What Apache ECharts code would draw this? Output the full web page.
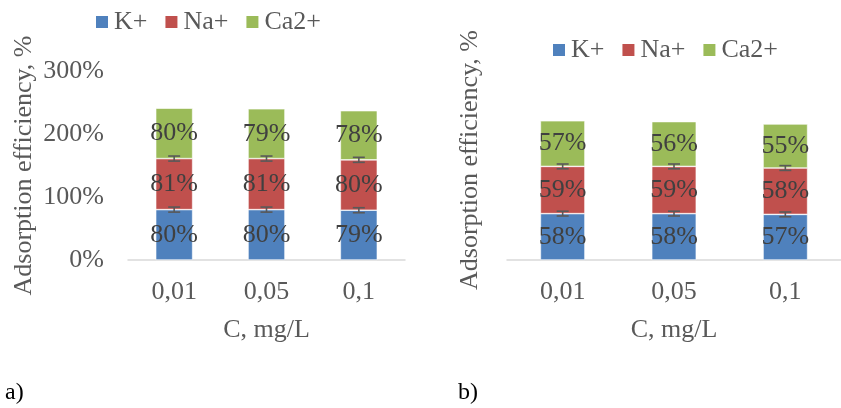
<!DOCTYPE html>
<html>
<head>
<meta charset="utf-8">
<script src="https://cdn.jsdelivr.net/npm/echarts@6/dist/echarts.min.js"></script>
<style>
html,body{margin:0;padding:0;background:#fff;}
#c{width:841px;height:408px;}
</style>
</head>
<body>
<div id="c"></div>
<script>
var categories = ['0,01', '0,05', '0,1'];
var seriesNames = ['K+', 'Na+', 'Ca2+'];
// Panel a values (%)
var aK = [80, 80, 79];
var aNa = [81, 81, 80];
var aCa = [80, 79, 78];
var aErrK = [4, 4, 4];
var aErrNa = [4, 4, 4];
// Panel b values (%)
var bK = [58, 58, 57];
var bNa = [59, 59, 58];
var bCa = [57, 56, 55];
var bErrK = [3, 3, 3];
var bErrNa = [3, 3, 3];
var yTicksA = [0, 100, 200, 300];

var FONT = "'Liberation Serif','Times New Roman',serif";
var TXT = '#595959';
var colors = ['#4F81BD', '#C0504D', '#9BBB59'];

function errData(base, top, err) {
  var out = [];
  for (var i = 0; i < top.length; i++) {
    var b = base ? base[i] : 0;
    out.push([i, b + top[i], err[i]]);
  }
  return out;
}
function errSeries(idx, data) {
  return {
    type: 'custom', xAxisIndex: idx, yAxisIndex: idx, z: 10, silent: true,
    renderItem: function (params, api) {
      var x = api.value(0), y = api.value(1), e = api.value(2);
      var hi = api.coord([x, y + e]);
      var lo = api.coord([x, y - e]);
      var hw = 6;
      var st = { stroke: '#595959', lineWidth: 1.6 };
      return { type: 'group', children: [
        { type: 'line', shape: { x1: hi[0], y1: hi[1], x2: lo[0], y2: lo[1] }, style: st },
        { type: 'line', shape: { x1: hi[0] - hw, y1: hi[1], x2: hi[0] + hw, y2: hi[1] }, style: st },
        { type: 'line', shape: { x1: lo[0] - hw, y1: lo[1], x2: lo[0] + hw, y2: lo[1] }, style: st }
      ]};
    },
    data: data
  };
}
function barSeries(idx, name, data, color, stack) {
  return {
    type: 'bar', name: name, stack: stack, xAxisIndex: idx, yAxisIndex: idx,
    barWidth: '40%',
    itemStyle: { color: color, borderColor: '#ffffff', borderWidth: 0.6 },
    label: { show: true, position: 'inside', formatter: '{c}%', color: '#404040',
             fontFamily: FONT, fontSize: 26 },
    data: data
  };
}

var legendCommon = {
  data: seriesNames, icon: 'rect', itemWidth: 14, itemHeight: 14, itemGap: 16, padding: 0,
  textStyle: { fontFamily: FONT, fontSize: 26, color: TXT }, selectedMode: false
};

var chart = echarts.init(document.getElementById('c'), null, { renderer: 'canvas' });
chart.setOption({
  animation: false,
  backgroundColor: '#ffffff',
  color: colors,
  legend: [
    Object.assign({ left: 94, top: 9 }, legendCommon),
    Object.assign({ left: 551, top: 37 }, legendCommon)
  ],
  grid: [
    { left: 128, width: 277, top: 71, height: 189 },
    { left: 507, width: 347, top: 60, height: 200 }
  ],
  xAxis: [0, 1].map(function (i) {
    return {
      type: 'category', gridIndex: i, data: categories,
      name: 'C, mg/L', nameLocation: 'middle', nameGap: 57,
      nameTextStyle: { fontFamily: FONT, fontSize: 26, color: TXT },
      axisLine: { lineStyle: { color: '#D9D9D9', width: 1.5 } },
      axisTick: { show: false },
      axisLabel: { fontFamily: FONT, fontSize: 26, color: TXT, margin: 19 }
    };
  }),
  yAxis: [
    {
      type: 'value', gridIndex: 0, min: yTicksA[0], max: yTicksA[yTicksA.length - 1], interval: 100,
      name: 'Adsorption efficiency, %', nameLocation: 'middle', nameGap: 91, nameRotate: 90,
      nameTextStyle: { fontFamily: FONT, fontSize: 26, color: TXT },
      axisLine: { show: false }, axisTick: { show: false }, splitLine: { show: false },
      axisLabel: { fontFamily: FONT, fontSize: 26, color: TXT, margin: 24, formatter: '{value}%' }
    },
    {
      type: 'value', gridIndex: 1, min: 0, max: 250, interval: 50,
      name: 'Adsorption efficiency, %', nameLocation: 'middle', nameGap: 24, nameRotate: 90,
      nameTextStyle: { fontFamily: FONT, fontSize: 26, color: TXT },
      axisLine: { show: false }, axisTick: { show: false }, splitLine: { show: false },
      axisLabel: { show: false }
    }
  ],
  graphic: [
    { type: 'text', left: 5, top: 381, style: { text: 'a)', fontFamily: FONT, fontSize: 24, fill: '#000' } },
    { type: 'text', left: 458, top: 381, style: { text: 'b)', fontFamily: FONT, fontSize: 24, fill: '#000' } }
  ],
  series: [
    barSeries(0, 'K+', aK, colors[0], 'a'),
    barSeries(0, 'Na+', aNa, colors[1], 'a'),
    barSeries(0, 'Ca2+', aCa, colors[2], 'a'),
    errSeries(0, errData(null, aK, aErrK)),
    errSeries(0, errData(aK, aNa, aErrNa)),
    barSeries(1, 'K+', bK, colors[0], 'b'),
    barSeries(1, 'Na+', bNa, colors[1], 'b'),
    barSeries(1, 'Ca2+', bCa, colors[2], 'b'),
    errSeries(1, errData(null, bK, bErrK)),
    errSeries(1, errData(bK, bNa, bErrNa))
  ]
});
</script>
</body>
</html>
